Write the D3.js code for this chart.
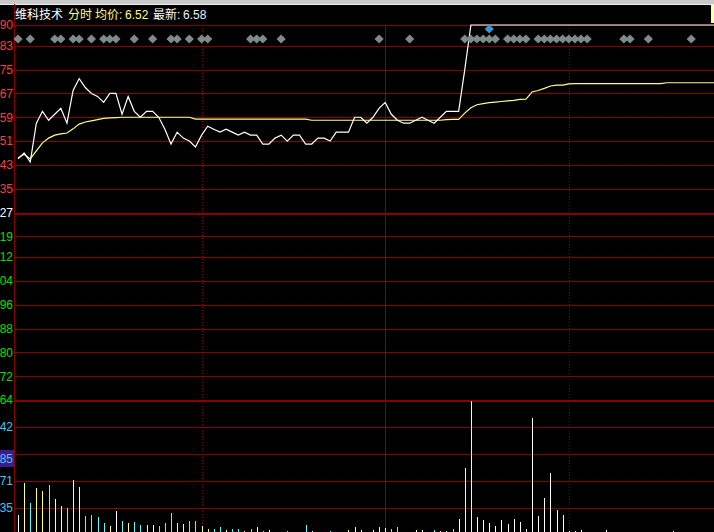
<!DOCTYPE html>
<html><head><meta charset="utf-8">
<script src="https://cdn.jsdelivr.net/npm/d3@7"></script>
<style>html,body{margin:0;padding:0;background:#000;}svg{display:block;}</style>
</head><body>
<svg id="c" width="714" height="532"></svg>
<script>
// ---------- DATA ----------
const stockName = "维科技术";
const headerLabels = ["分时", "均价:", "6.52", "最新:", "6.58"];
const prevClose = 6.27;
const priceTicks = [6.90, 6.83, 6.75, 6.67, 6.59, 6.51, 6.43, 6.35, 6.27, 6.19, 6.12, 6.04, 5.96, 5.88, 5.80, 5.72, 5.64];
const priceTickLabels = ["90","83","75","67","59","51","43","35","27","19","12","04","96","88","80","72","64"];
const volTicks = [35.5, 71, 106.5, 142];
const volTickLabels = ["35","71","","42"];
const volCursorValue = 101;
const volCursorLabel = "85";
const sessionDividers = [30, 60, 90];          // bar index of the hour dividers
const solidDivider = 60;

// price per 2-minute slot (index = slot)
const prices = [
 6.45,6.47,6.44,6.57,6.61,6.58,6.60,6.62,6.57,6.68,
 6.72,6.69,6.67,6.66,6.64,6.67,6.67,6.60,6.66,6.61,
 6.59,6.61,6.61,6.59,6.55,6.50,6.54,6.52,6.51,6.49,
 6.53,6.56,6.55,6.54,6.55,6.54,6.53,6.54,6.53,6.53,
 6.50,6.50,6.52,6.53,6.51,6.53,6.53,6.50,6.50,6.52,
 6.52,6.51,6.54,6.54,6.54,6.59,6.59,6.57,6.59,6.62,
 6.64,6.60,6.58,6.57,6.57,6.58,6.59,6.58,6.57,6.59,
 6.61,6.61,6.61,6.75,6.90,6.90,6.90,6.90,6.90,6.90,
 6.90,6.90,6.90,6.90,6.90,6.90,6.90,6.90,6.90,6.90,
 6.90,6.90,6.90,6.90,6.90,6.90,6.90,6.90,6.90,6.90,
 6.90,6.90,6.90,6.90,6.90,6.90,6.90,6.90,6.90,6.90,
 6.90,6.90,6.90,6.90,6.90
];
const avgPrices = [
 6.453,6.466,6.450,6.477,6.504,6.520,6.530,6.534,6.537,6.551,
 6.567,6.574,6.578,6.582,6.586,6.588,6.589,6.590,6.590,6.590,
 6.590,6.590,6.590,6.590,6.590,6.590,6.590,6.590,6.590,6.584,
 6.584,6.584,6.584,6.584,6.584,6.584,6.584,6.584,6.584,6.584,
 6.584,6.584,6.584,6.584,6.584,6.584,6.584,6.584,6.580,6.580,
 6.580,6.580,6.580,6.580,6.580,6.580,6.580,6.580,6.580,6.580,
 6.580,6.580,6.580,6.580,6.580,6.580,6.580,6.580,6.580,6.580,
 6.582,6.583,6.583,6.604,6.622,6.632,6.636,6.639,6.641,6.643,
 6.645,6.647,6.650,6.651,6.675,6.680,6.687,6.695,6.698,6.698,
 6.702,6.703,6.703,6.703,6.703,6.703,6.703,6.703,6.703,6.703,
 6.703,6.703,6.703,6.703,6.703,6.703,6.706,6.706,6.706,6.706,
 6.706,6.706,6.706,6.706,6.706
];
const volumes = [
 26,69,42,62,58,66,47,38,36,72,
 63,25,26,24,16,12,32,19,16,17,
 13,13,13,12,16,29,16,15,19,19,
 12,8,7.5,10,6.6,8,8,5,8,10.5,
 5,6.6,0,0,5,0,0,13,5,0,
 0,5,0,0,6.6,10.5,6.6,0,6.6,10.5,
 9,8,10.5,0,0,6.6,6.6,0,6.6,5,
 5,8,21,88,176,24,20,16,12,20,
 14.5,21,17,8,154,25,49,82,33,26,
 5,5,6.6,0,0,0,6.6,0,0,0,
 0,0,0,0,0,0,0,5
];
const volKind = [
 "w","y","c","y","y","c","y","y","c","y",
 "y","c","c","c","c","y","w","c","y","c",
 "c","y","w","c","c","c","y","y","c","c",
 "y","y","c","c","y","c","c","y","c","w",
 "c","w","w","w","c","w","w","c","w","w",
 "w","c","w","w","y","y","y","w","y","y",
 "y","c","c","w","w","y","y","w","c","y",
 "y","c","w","y","y","w","w","w","w","w",
 "w","w","w","w","w","w","w","w","w","w",
 "w","w","w","w","w","w","w","w","w","w",
 "w","w","w","w","w","w","w","w"
];
const markerSlots = [0,2,6,7,9,10,12,14,15,16,19,22,25,26,28,30,31,38,39,40,43,59,64,
  73,74,75,76,77,78,80,81,82,83,85,86,87,88,89,90,91,92,93,99,100,103,110];
const highlightSlot = 77;

// ---------- SCALES ----------
const svg = d3.select("#c");
const W = 714, H = 532, left = 14;
const x = d3.scaleLinear().domain([0, 120]).range([18, 18 + 120 * 6.12]);
const y = d3.scaleLinear().domain([5.64, 6.90]).range([400, 25]);
const yv = d3.scaleLinear().domain([0, 177.5]).range([535, 400]);
const gridCol = "#880000";
const kindColor = {w: "#ffffff", y: "#ffff80", c: "#54fcfc"};

svg.append("rect").attr("width", W).attr("height", H).attr("fill", "#000");

// top toolbar remnant
svg.append("rect").attr("x", 0).attr("y", 0).attr("width", W).attr("height", 4).attr("fill", "#c8c8c8");
svg.append("line").attr("x1", 0).attr("x2", W).attr("y1", 4.5).attr("y2", 4.5).attr("stroke", "#f0f0f0");
svg.append("rect").attr("x", 711).attr("y", 5).attr("width", 3).attr("height", 18).attr("fill", "#ffffb0");

// ---------- GRID ----------
const g = svg.append("g").attr("shape-rendering", "crispEdges");
g.selectAll("line.pg").data(priceTicks).join("line")
  .attr("x1", left).attr("x2", W)
  .attr("y1", d => Math.round(y(d)) + 0.5).attr("y2", d => Math.round(y(d)) + 0.5)
  .attr("stroke", gridCol)
  .attr("stroke-width", d => (d === prevClose || d === 5.64) ? 2 : 1);
g.selectAll("line.vg").data(volTicks).join("line")
  .attr("x1", left).attr("x2", W)
  .attr("y1", d => Math.round(yv(d)) + 0.5).attr("y2", d => Math.round(yv(d)) + 0.5)
  .attr("stroke", gridCol).attr("stroke-width", 1);
// vertical dividers
g.selectAll("line.dv").data(sessionDividers).join("line")
  .attr("x1", d => Math.round(x(d)) + 0.5).attr("x2", d => Math.round(x(d)) + 0.5)
  .attr("y1", 25).attr("y2", H)
  .attr("stroke", gridCol)
  .attr("stroke-dasharray", d => d === solidDivider ? null : "1,2");
// left axis
g.append("line").attr("x1", left + 0.5).attr("x2", left + 0.5).attr("y1", 4).attr("y2", H).attr("stroke", gridCol);

// volume cursor box (behind its label)
svg.append("rect").attr("x", 0).attr("y", Math.round(yv(volCursorValue) - 8.5)).attr("width", 14).attr("height", 17).attr("fill", "#3c1c8c");

// ---------- AXIS LABELS ----------
const lab = svg.append("g").attr("font-family", "'Liberation Sans', Arial, sans-serif").attr("font-size", 12).attr("text-anchor", "end");
lab.selectAll("text.p").data(priceTicks).join("text")
  .attr("x", 13).attr("y", d => y(d)).attr("dy", "0.36em")
  .attr("fill", d => d > prevClose ? "#ff3c3c" : (d === prevClose ? "#ffffff" : "#00e000"))
  .text((d, i) => priceTickLabels[i]);
lab.selectAll("text.v").data(volTicks).join("text")
  .attr("x", 13).attr("y", d => yv(d)).attr("dy", "0.36em")
  .attr("fill", "#3ccaf5")
  .text((d, i) => volTickLabels[i]);
lab.append("text").attr("x", 13).attr("y", yv(volCursorValue)).attr("dy", "0.36em").attr("fill", "#3ccaf5").text(volCursorLabel);

// ---------- VOLUME BARS ----------
const volData = volumes.map((v, i) => ({i, v, k: volKind[i]})).filter(d => d.v > 0);
svg.append("g").attr("shape-rendering", "crispEdges").selectAll("rect").data(volData).join("rect")
  .attr("x", d => Math.round(x(d.i)))
  .attr("width", 1)
  .attr("y", d => yv(d.v))
  .attr("height", d => yv(0) - yv(d.v))
  .attr("fill", d => kindColor[d.k]);

// ---------- LINES ----------
const line = d3.line().x((d, i) => x(i)).y(d => y(d));
svg.append("path").datum(avgPrices).attr("d", line).attr("fill", "none").attr("stroke", "#ffff80").attr("stroke-width", 1.2);
svg.append("path").datum(prices).attr("d", line).attr("fill", "none").attr("stroke", "#ffffff").attr("stroke-width", 1.2);

// ---------- MARKERS ----------
const diamond = s => `M0,${-s}L${s},0L0,${s}L${-s},0Z`;
svg.append("g").selectAll("path").data(markerSlots).join("path")
  .attr("d", diamond(4.6))
  .attr("transform", d => `translate(${x(d)},39)`)
  .attr("fill", "#7f8a8a");
svg.append("path").attr("d", diamond(4.6))
  .attr("transform", `translate(${x(highlightSlot)},29)`)
  .attr("fill", "#3399cc");

// ---------- HEADER ----------
const hdr = svg.append("text").attr("y", 19).attr("font-size", 12)
  .attr("font-family", "'Liberation Sans', 'Noto Sans CJK SC', sans-serif");
hdr.append("tspan").attr("x", 15).attr("fill", "#ffffff").attr("font-family", "'Noto Sans CJK SC', sans-serif").text(stockName);
const hx = [68, 95, 125, 153, 183];
const hc = ["#ffff80", "#ffff80", "#ffff80", "#ffffff", "#e4f0ff"];
headerLabels.forEach((t, i) => {
  hdr.append("tspan").attr("x", hx[i]).attr("fill", hc[i]).text(t);
});
</script>
</body></html>
